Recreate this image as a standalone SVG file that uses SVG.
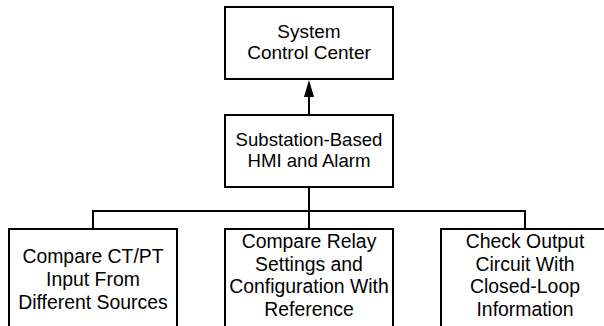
<svg xmlns="http://www.w3.org/2000/svg" width="604" height="326" viewBox="0 0 604 326">
<style>
.box{fill:#fff;stroke:#000;stroke-width:2}
.t{font-family:"Liberation Sans",Arial,sans-serif;font-size:18.6px;fill:#000;text-anchor:middle}
.a{font-size:19px}
.b{font-size:19.4px}
.c{fill:none;stroke:#000;stroke-width:2}
</style>
<rect width="604" height="326" fill="#fff"/>
<g id="connectors">
<line class="c" x1="309" y1="115" x2="309" y2="96"/>
<polygon points="309,80 304,97 314,97" fill="#000"/>
<line class="c" x1="309" y1="187" x2="309" y2="229"/>
<line class="c" x1="92" y1="211" x2="526" y2="211"/>
<line class="c" x1="93" y1="210" x2="93" y2="229"/>
<line class="c" x1="525" y1="210" x2="525" y2="229"/>
</g>
<g id="system-control-center">
<rect class="box" x="225" y="7" width="168" height="72"/>
<text class="t a" x="309" y="38">System</text>
<text class="t a" x="309" y="59">Control Center</text>
</g>
<g id="substation-hmi">
<rect class="box" x="225" y="115" width="168" height="72"/>
<text class="t" x="309" y="146">Substation-Based</text>
<text class="t" x="309" y="167">HMI and Alarm</text>
</g>
<g id="compare-ctpt">
<rect class="box" x="9" y="229" width="168" height="110"/>
<text class="t b" x="93" y="263">Compare CT/PT</text>
<text class="t b" x="93" y="286">Input From</text>
<text class="t b" x="93" y="309">Different Sources</text>
</g>
<g id="compare-relay">
<rect class="box" x="225" y="229" width="168" height="110"/>
<text class="t b" x="309" y="248">Compare Relay</text>
<text class="t b" x="309" y="270.5">Settings and</text>
<text class="t b" x="309" y="293">Configuration With</text>
<text class="t b" x="309" y="315.5">Reference</text>
</g>
<g id="check-output">
<rect class="box" x="441" y="229" width="170" height="110"/>
<text class="t b" x="525" y="248">Check Output</text>
<text class="t b" x="525" y="270.5">Circuit With</text>
<text class="t b" x="525" y="293">Closed-Loop</text>
<text class="t b" x="525" y="315.5">Information</text>
</g>
</svg>
